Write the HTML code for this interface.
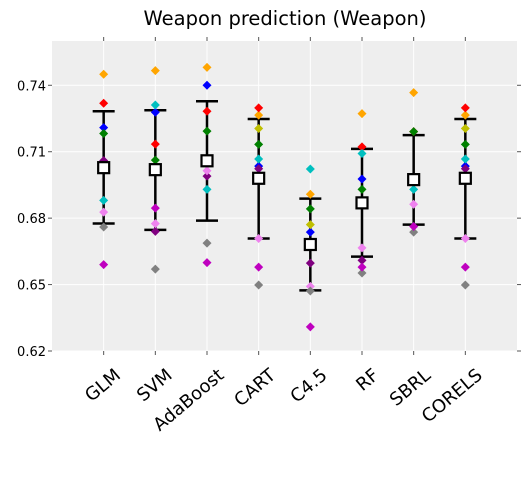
<!DOCTYPE html>
<html><head><meta charset="utf-8"><style>
html,body{margin:0;padding:0;background:#fff;}
svg{display:block;font-family:"DejaVu Sans","Liberation Sans",sans-serif;}
</style></head><body>
<svg id="chart" width="526" height="480">
<text x="285" y="25" text-anchor="middle" font-size="19.5" fill="#000">Weapon prediction (Weapon)</text>
<rect x="52" y="41" width="465" height="310" fill="#eeeeee"/>
<g id="grid"></g><g id="axes"></g><g id="bars"></g><g id="marks"></g><g id="meansg"></g>
</svg>
<script>
const categories = ["GLM","SVM","AdaBoost","CART","C4.5","RF","SBRL","CORELS"];
const yTicks = [0.62,0.65,0.68,0.71,0.74];
const yTickLabels = ["0.62","0.65","0.68","0.71","0.74"];
const colors = ["#ffa500","#ff0000","#0000ff","#008000","#800080","#00bfbf","#ee82ee","#808080","#bf00bf","#bfbf00"];
const sOrange  = [0.745,0.7466,0.7481,0.7265,0.6908,0.7272,0.7367,0.7265];
const sRed     = [0.7319,0.7134,0.7283,0.7298,null,0.7122,0.7191,0.7298];
const sBlue    = [0.7209,0.7278,0.740,0.7035,0.6737,0.6977,null,0.7035];
const sGreen   = [0.7182,0.7062,0.7193,0.7133,0.6842,0.693,0.7191,0.7133];
const sPurple  = [0.706,0.674,0.699,0.7023,0.6597,0.6609,null,0.7023];
const sCyan    = [0.688,0.7311,0.693,0.7067,0.7022,0.7092,0.693,0.7067];
const sViolet  = [0.6827,0.6775,0.7014,0.6708,0.6492,0.6666,0.6863,0.6708];
const sGray    = [0.676,0.657,0.6687,0.6498,0.6471,0.6552,0.6737,0.6498];
const sMagenta = [0.659,0.6845,0.6599,0.6579,0.6309,0.6579,0.6762,0.6579];
const sOlive   = [null,null,null,0.7205,0.6771,null,null,0.7205];
const series = [sOrange,sRed,sBlue,sGreen,sPurple,sCyan,sViolet,sGray,sMagenta,sOlive];
const means = [0.7028,0.7019,0.7059,0.698,0.6681,0.6869,0.6974,0.698];
const upper = [0.7283,0.7287,0.7328,0.7248,0.6888,0.7113,0.7175,0.7248];
const lower = [0.6776,0.6747,0.6789,0.6708,0.6474,0.6626,0.6771,0.6708];

const NS="http://www.w3.org/2000/svg";
const X0=52,X1=517,Y0=351,Y1=41,YMIN=0.62,YMAX=0.76;
const xs=i=>X0+(i+1)*(X1-X0)/(categories.length+1);
const ys=v=>Y0-(v-YMIN)/(YMAX-YMIN)*(Y0-Y1);
function mk(tag,attrs,parent){const e=document.createElementNS(NS,tag);for(const k in attrs)e.setAttribute(k,attrs[k]);parent.appendChild(e);return e;}
const grid=document.getElementById('grid'),axes=document.getElementById('axes'),marks=document.getElementById('marks'),bars=document.getElementById('bars'),meansg=document.getElementById('meansg');
yTicks.forEach((t,i)=>{
  const y=ys(t);
  const g=mk('line',{x1:X0,x2:X1,y1:y,y2:y,stroke:'#fff','stroke-width':1},grid);
  
  
  mk('line',{x1:X0-4,x2:X0,y1:y,y2:y,stroke:'#555'},axes);
  mk('line',{x1:X1,x2:X1+4,y1:y,y2:y,stroke:'#555'},axes);
  const l=mk('text',{x:X0-6,y:y+5,'text-anchor':'end','font-size':13,fill:'#000'},axes);
  l.textContent=yTickLabels[i];
  
  
});
categories.forEach((c,i)=>{
  const x=xs(i);
  const g=mk('line',{x1:x,x2:x,y1:Y1,y2:Y0,stroke:'#fff','stroke-width':1},grid);
  
  
  mk('line',{x1:x,x2:x,y1:Y0,y2:Y0+4,stroke:'#555'},axes);
  mk('line',{x1:x,x2:x,y1:Y1-4,y2:Y1,stroke:'#555'},axes);
  const tx=x+18,ty=377;
  const l=mk('text',{x:tx,y:ty,'text-anchor':'end','font-size':18,fill:'#000',transform:`rotate(-40 ${tx} ${ty})`},axes);
  l.textContent=c;
  
  
});
categories.forEach((c,i)=>{
  const x=xs(i),yu=ys(upper[i]),yl=ys(lower[i]);
  const e=mk('line',{x1:x,x2:x,y1:yu,y2:yl,stroke:'#000','stroke-width':2.5},bars);
  
  
  mk('line',{x1:x-11,x2:x+11,y1:yu,y2:yu,stroke:'#000','stroke-width':2.5},bars);
  mk('line',{x1:x-11,x2:x+11,y1:yl,y2:yl,stroke:'#000','stroke-width':2.5},bars);
});
series.forEach((s,si)=>{
  s.forEach((v,i)=>{
    if(v==null)return;
    const x=xs(i),y=ys(v),r=4.5;
    const p=mk('polygon',{points:`${x},${y-r} ${x+r},${y} ${x},${y+r} ${x-r},${y}`,fill:colors[si]},marks);
    
    
  });
});
categories.forEach((c,i)=>{
  const x=xs(i),ym=ys(means[i]);
  const m=mk('rect',{x:x-5.5,y:ym-5.5,width:11,height:11,fill:'#fff',stroke:'#000','stroke-width':2.2},meansg);
  
  
});
</script>
</body></html>
